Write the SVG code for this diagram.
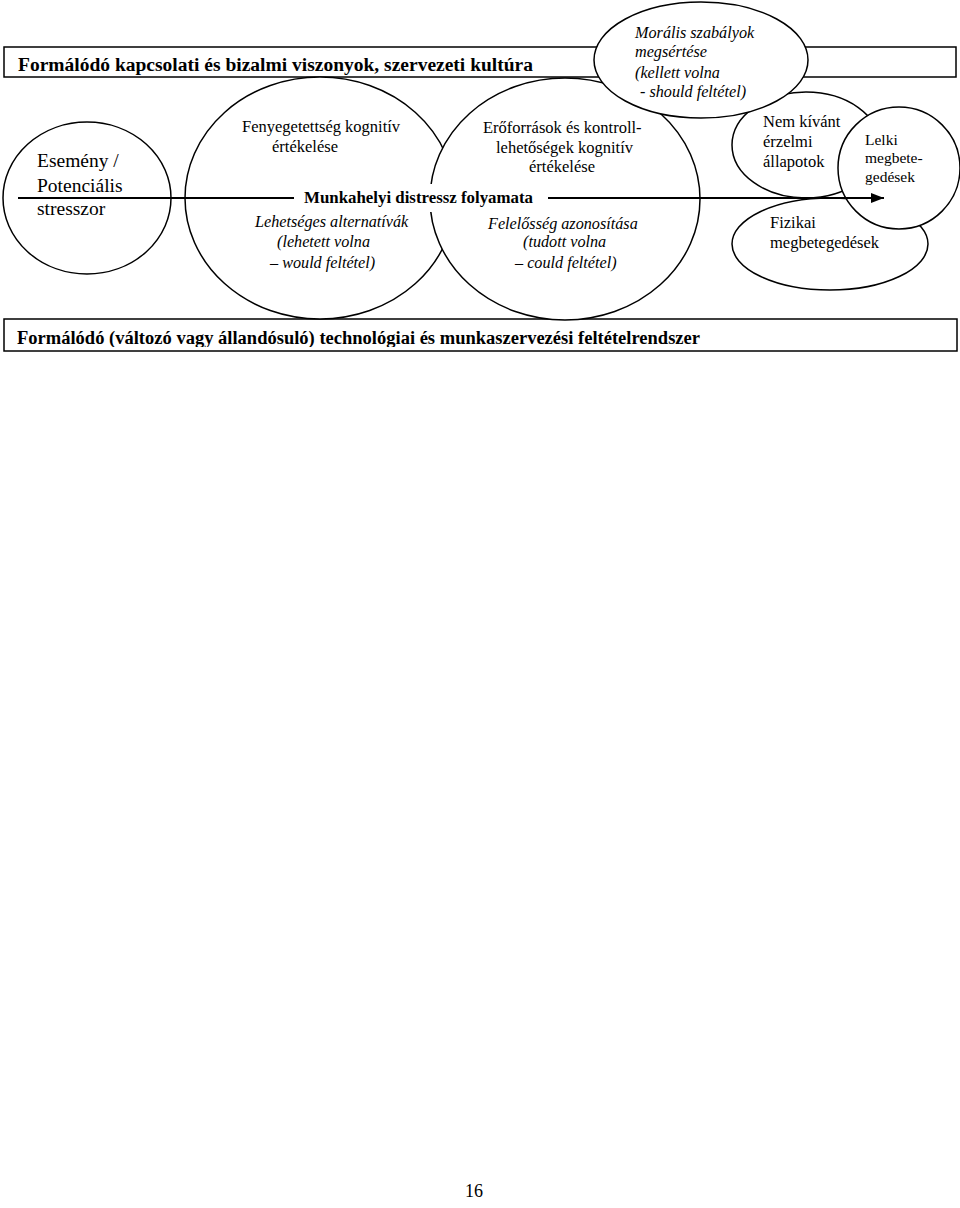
<svg xmlns="http://www.w3.org/2000/svg" width="960" height="1208" viewBox="0 0 960 1208">
<style>
.shape{fill:#fff;stroke:#000;stroke-width:1.5}
.t{font-family:"Liberation Serif","Times New Roman",serif;font-size:16.5px;fill:#000}
.i{font-style:italic;font-size:16.2px}
.b{font-weight:bold}
.box{font-family:"Liberation Serif","Times New Roman",serif;font-size:18px;font-weight:bold;fill:#000}
</style>
<defs>
<marker id="arr" markerWidth="14" markerHeight="12" refX="13" refY="6" orient="auto" markerUnits="userSpaceOnUse">
<path d="M0,1 L13,6 L0,11 Z" fill="#000"/>
</marker>
<clipPath id="clipTop"><rect x="5" y="48" width="950" height="28"/></clipPath>
<clipPath id="clipBot"><rect x="4" y="320" width="952" height="27"/></clipPath>
</defs>
<rect width="960" height="1208" fill="#fff"/>

<g id="box-top">
<rect class="shape" x="4" y="47" width="952" height="30"/>
<text class="box" x="18" y="71" clip-path="url(#clipTop)" textLength="515" lengthAdjust="spacingAndGlyphs">Formálódó kapcsolati és bizalmi viszonyok, szervezeti kultúra</text>
</g>

<g id="box-bottom">
<rect class="shape" x="4" y="319" width="953" height="32"/>
<text class="box" x="17" y="344" clip-path="url(#clipBot)" textLength="683" lengthAdjust="spacingAndGlyphs">Formálódó (változó vagy állandósuló) technológiai és munkaszervezési feltételrendszer</text>
</g>

<g id="node-esemeny">
<ellipse class="shape" cx="87" cy="198" rx="84" ry="76"/>
<text class="t" style="font-size:19.5px" x="37" y="167">Esemény /</text>
<text class="t" style="font-size:19.5px" x="37" y="192">Potenciális</text>
<text class="t" style="font-size:19.5px" x="37" y="215">stresszor</text>
</g>

<g id="node-fenyegetettseg">
<ellipse class="shape" cx="320" cy="198" rx="135" ry="121"/>
<text class="t" x="242" y="132">Fenyegetettség kognitív</text>
<text class="t" x="272" y="152">értékelése</text>
<text class="t i" x="255" y="227">Lehetséges alternatívák</text>
<text class="t i" x="277" y="247">(lehetett volna</text>
<text class="t i" x="270" y="268">– would feltétel)</text>
</g>

<g id="node-eroforrasok">
<ellipse class="shape" cx="565" cy="199" rx="135" ry="121"/>
<text class="t" x="483" y="133">Erőforrások és kontroll-</text>
<text class="t" x="496" y="153">lehetőségek kognitív</text>
<text class="t" x="529" y="172">értékelése</text>
<text class="t i" x="488" y="229">Felelősség azonosítása</text>
<text class="t i" x="523" y="247">(tudott volna</text>
<text class="t i" x="515" y="268">– could feltétel)</text>
</g>

<g id="node-nem-kivant">
<ellipse class="shape" cx="806" cy="145" rx="74" ry="53"/>
<text class="t" x="763" y="127">Nem kívánt</text>
<text class="t" x="763" y="147">érzelmi</text>
<text class="t" x="763" y="167">állapotok</text>
</g>

<g id="node-moralis">
<ellipse class="shape" cx="701" cy="60" rx="107" ry="58"/>
<text class="t i" x="635" y="38">Morális szabályok</text>
<text class="t i" x="635" y="57">megsértése</text>
<text class="t i" x="635" y="78">(kellett volna</text>
<text class="t i" x="640" y="97">- should feltétel)</text>
</g>

<g id="node-fizikai">
<ellipse class="shape" cx="830" cy="244" rx="98" ry="46"/>
<text class="t" x="770" y="228">Fizikai</text>
<text class="t" x="770" y="248">megbetegedések</text>
</g>

<g id="node-lelki">
<circle class="shape" cx="899" cy="168" r="61"/>
<text class="t" style="font-size:15.5px" x="865" y="145">Lelki</text>
<text class="t" style="font-size:15.5px" x="865" y="163">megbete-</text>
<text class="t" style="font-size:15.5px" x="865" y="182">gedések</text>
</g>

<g id="connectors">
<line x1="18" y1="198" x2="884" y2="198" stroke="#000" stroke-width="2" marker-end="url(#arr)"/>
</g>

<g id="node-munkahelyi">
<rect x="294" y="184" width="254" height="28" fill="#fff"/>
<text class="t b" x="304" y="203" textLength="229" lengthAdjust="spacingAndGlyphs">Munkahelyi distressz folyamata</text>
</g>

<g id="page-number">
<text class="t" style="font-size:18px" x="465" y="1197">16</text>
</g>
</svg>
